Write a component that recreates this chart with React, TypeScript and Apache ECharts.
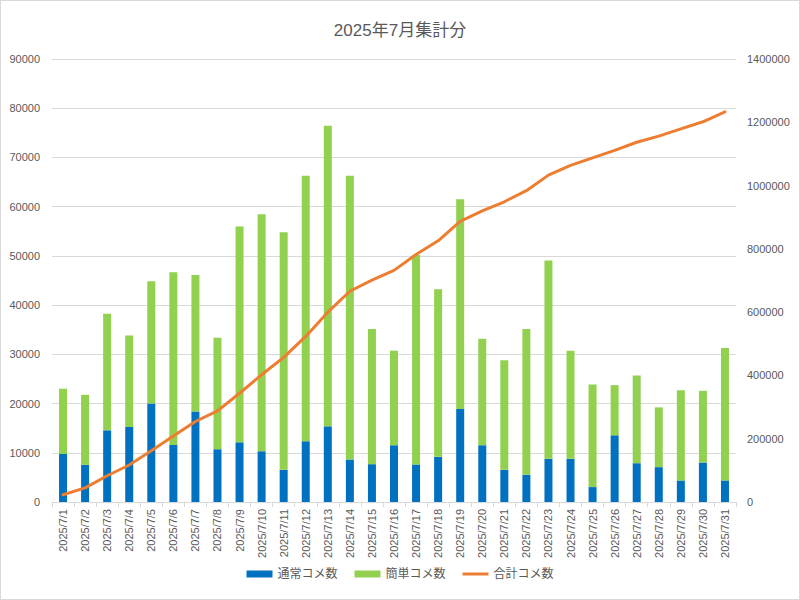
import React, { useEffect, useRef } from "react";
import * as echarts from "echarts";

const categories = [
  "2025/7/1", "2025/7/2", "2025/7/3", "2025/7/4", "2025/7/5", "2025/7/6", "2025/7/7", "2025/7/8",
  "2025/7/9", "2025/7/10", "2025/7/11", "2025/7/12", "2025/7/13", "2025/7/14", "2025/7/15", "2025/7/16",
  "2025/7/17", "2025/7/18", "2025/7/19", "2025/7/20", "2025/7/21", "2025/7/22", "2025/7/23", "2025/7/24",
  "2025/7/25", "2025/7/26", "2025/7/27", "2025/7/28", "2025/7/29", "2025/7/30", "2025/7/31",
];

const normalCounts = [
  9770, 7550, 14560, 15240, 20020, 11600, 18400, 10720, 12130, 10310, 6540, 12340, 15370, 8630, 7690, 11530,
  7620, 9170, 18880, 11530, 6540, 5530, 8770, 8770, 3030, 13550, 7890, 7080, 4380, 8020, 4380,
];

const simpleCounts = [
  13230, 14230, 23670, 18600, 24820, 35060, 27710, 22650, 43830, 48140, 48270, 53940, 61090, 57650, 27440, 19210,
  42540, 34050, 42610, 21640, 22250, 29600, 40310, 21970, 20840, 10180, 17800, 12140, 18340, 14570, 26910,
];

const totalCounts = [
  23000, 44780, 83010, 116850, 161690, 208350, 254460, 287830, 343790, 402240, 457050, 523330, 599790, 666070, 701200, 731940,
  782100, 825320, 886810, 919980, 948770, 983900, 1032980, 1063720, 1087590, 1111320, 1137010, 1156230, 1178950, 1201540, 1232830,
];

const leftTicks = { min: 0, max: 90000, interval: 10000 };
const rightTicks = { min: 0, max: 1400000, interval: 200000 };

const FONT = "'Liberation Sans', 'Noto Sans CJK JP', sans-serif";
const TEXT = "#595959";

export default function App() {
  const ref = useRef<HTMLDivElement>(null);
  useEffect(() => {
    if (!ref.current) return;
    const chart = echarts.init(ref.current, undefined, { renderer: "svg" });
    chart.setOption({
      animation: false,
      backgroundColor: "#ffffff",
      textStyle: { fontFamily: FONT, color: TEXT },
      title: {
        text: "2025年7月集計分",
        left: "center",
        top: 16,
        textStyle: { fontSize: 17, fontWeight: "normal", color: TEXT, fontFamily: FONT },
      },
      legend: {
        bottom: 14,
        left: "center",
        itemWidth: 26,
        itemHeight: 7,
        itemGap: 17,
        textStyle: { fontSize: 12, color: TEXT, fontFamily: FONT },
        data: [
          { name: "通常コメ数", icon: "rect" },
          { name: "簡単コメ数", icon: "rect" },
          { name: "合計コメ数", icon: "path://M0 0H26V3H0Z" },
        ],
      },
      grid: { left: 51, right: 63, top: 58, bottom: 97, containLabel: false },
      xAxis: {
        type: "category",
        data: categories,
        axisLine: { lineStyle: { color: "#d9d9d9" } },
        axisTick: { show: true, length: 5, lineStyle: { color: "#d9d9d9" } },
        axisLabel: { rotate: 90, fontSize: 11, color: TEXT, margin: 7, interval: 0, fontFamily: FONT },
      },
      yAxis: [
        {
          type: "value",
          ...leftTicks,
          axisLine: { show: false, lineStyle: { color: TEXT } },
          axisTick: { show: false },
          axisLabel: {
            fontSize: 11,
            color: TEXT,
            margin: 12,
            fontFamily: FONT,
            formatter: (v: number) => String(v),
          },
          splitLine: { lineStyle: { color: "#d9d9d9" } },
        },
        {
          type: "value",
          ...rightTicks,
          axisLine: { show: false, lineStyle: { color: TEXT } },
          axisTick: { show: false },
          axisLabel: {
            fontSize: 11,
            color: TEXT,
            margin: 11,
            fontFamily: FONT,
            formatter: (v: number) => String(v),
          },
          splitLine: { show: false },
        },
      ],
      series: [
        {
          name: "通常コメ数",
          type: "bar",
          stack: "total",
          barWidth: 8,
          data: normalCounts,
          itemStyle: { color: "#0070C0" },
        },
        {
          name: "簡単コメ数",
          type: "bar",
          stack: "total",
          barWidth: 8,
          data: simpleCounts,
          itemStyle: { color: "#92D050" },
        },
        {
          name: "合計コメ数",
          type: "line",
          yAxisIndex: 1,
          data: totalCounts,
          symbol: "none",
          showSymbol: false,
          lineStyle: { color: "#ED7D31", width: 3, cap: "round", join: "round" },
          itemStyle: { color: "#ED7D31" },
        },
      ],
    });
    return () => chart.dispose();
  }, []);
  return (
    <div
      style={{
        position: "fixed",
        left: 0,
        top: 0,
        width: 800,
        height: 600,
        boxSizing: "border-box",
        border: "1px solid #d9d9d9",
        background: "#fff",
      }}
    >
      <div ref={ref} style={{ width: 798, height: 598 }} />
    </div>
  );
}
